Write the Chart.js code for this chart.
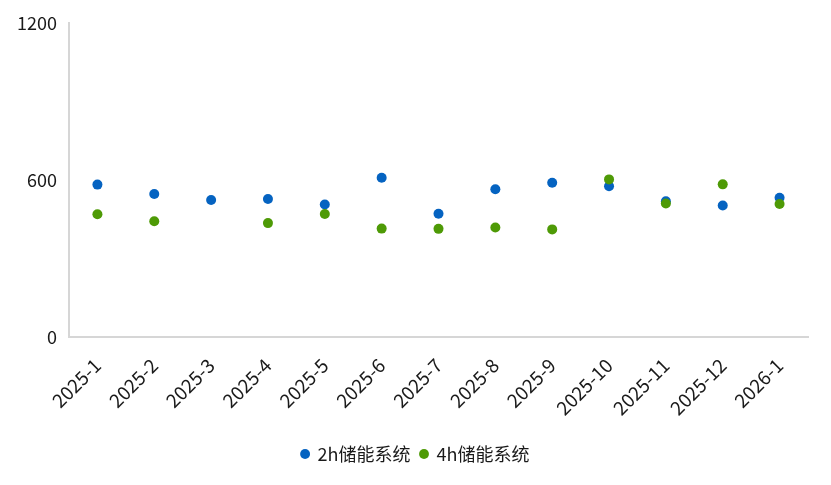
<!DOCTYPE html>
<html><head><meta charset="utf-8">
<script src="https://cdn.jsdelivr.net/npm/chart.js@4/dist/chart.umd.min.js"></script>
<style>html,body{margin:0;padding:0;background:#fff}#wrap{width:831px;height:485px}</style>
</head><body><div id="wrap"><canvas id="c" width="831" height="485"></canvas></div>
<script>
const categories = ["2025-1","2025-2","2025-3","2025-4","2025-5","2025-6","2025-7","2025-8","2025-9","2025-10","2025-11","2025-12","2026-1"];
const series2h = [582,546,523,527,506,608,471,564,589,576,518,502,532];
const series4h = [469,442,null,435,470,414,413,418,411,602,510,583,508];
const yTicks = [0,600,1200];
const seriesNames = ["2h储能系统","4h储能系统"];
const FONT = "'Noto Sans CJK SC','Noto Sans',sans-serif";
new Chart(document.getElementById('c'), {
  type: 'line',
  data: {
    labels: categories,
    datasets: [
      {label: seriesNames[0], data: series2h, showLine:false, pointRadius:5, pointHoverRadius:5, pointBorderWidth:0, backgroundColor:'#0563C1', borderColor:'#0563C1', order:1},
      {label: seriesNames[1], data: series4h, showLine:false, pointRadius:5, pointHoverRadius:5, pointBorderWidth:0, backgroundColor:'#4E9A06', borderColor:'#4E9A06', order:0}
    ]
  },
  options: {
    responsive:false, animation:false,
    layout:{padding:{left:0,right:0,top:22,bottom:12}},
    plugins:{
      tooltip:{enabled:false},
      legend:{position:'bottom', labels:{usePointStyle:true, pointStyle:'circle', boxWidth:7, boxHeight:7, padding:10, color:'#1a1a1a', font:{family:FONT,size:18}, sort:(a,b)=>a.datasetIndex-b.datasetIndex}}
    },
    scales:{
      x:{offset:true, grid:{display:false, drawTicks:false}, border:{display:true,color:'#d6d6d6',width:2},
         ticks:{autoSkip:false, maxRotation:45, minRotation:45, padding:17, color:'#1a1a1a', font:{family:FONT,size:19}},
         afterFit:(s)=>{s.height=98;}},
      y:{min:0,max:1200, grid:{display:false, drawTicks:false}, border:{display:true,color:'#d6d6d6',width:2},
         afterBuildTicks:(s)=>{s.ticks = yTicks.map(v=>({value:v}));},
         ticks:{padding:12, color:'#1a1a1a', font:{family:FONT,size:18}, callback:(v)=>String(v)},
         afterFit:(s)=>{s.width=69;}},
      yr:{position:'right', display:true, grid:{display:false, drawTicks:false}, border:{display:false},
         ticks:{display:false}, afterFit:(s)=>{s.width=23;}}
    }
  }
});
</script></body></html>
